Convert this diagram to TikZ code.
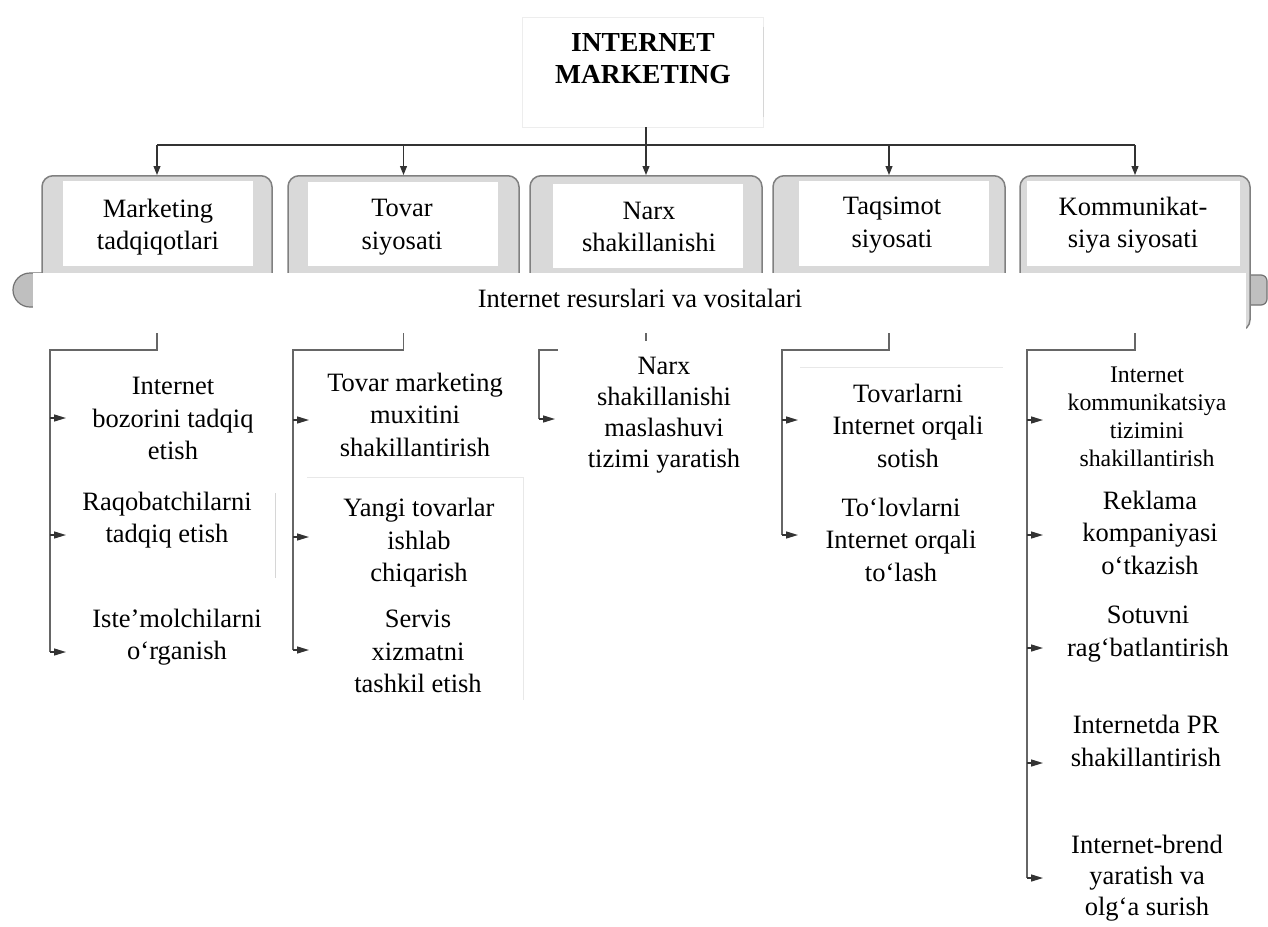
\documentclass[tikz,border=0pt]{standalone}
\usepackage{fontspec}
\setmainfont{Liberation Serif}
\usetikzlibrary{arrows.meta}
\begin{document}
\begin{tikzpicture}[x=1pt,y=-1pt,
  lbl/.style={font=\fontsize{26.5}{32.5}\selectfont, align=center, inner sep=0pt},
  small/.style={font=\fontsize{23.8}{28}\selectfont, align=center, inner sep=0pt},
  title/.style={font=\fontsize{27.5}{32}\selectfont\bfseries, align=center, inner sep=0pt},
  catbox/.style={draw=black!50, fill=black!15, line width=1.5pt, rounded corners=11pt, inner sep=0pt},
  bannerend/.style={draw=black!55, fill=black!25, line width=1.2pt},
  link/.style={draw=black!80, line width=1.1pt},
  down/.style={link, -{Triangle[length=9pt,width=7pt]}},
  bracket/.style={draw=black!60, line width=1.6pt},
  side/.style={draw=black!80, line width=1.4pt, -{Triangle[length=12pt,width=7pt]}},
  ghost/.style={draw=black!16, line width=0.8pt},
]
\useasboundingbox (0,0) rectangle (1268,926);
\clip (0,0) rectangle (1268,926);
\fill[white] (0,0) rectangle (1268,926);

% heading
\node[draw=black!7, line width=0.8pt, minimum width=241pt, minimum height=110pt, inner sep=0pt] (im) at (642.5,72) {};
\draw[ghost] (im.north east) ++(0,10) -- ([yshift=10pt]im.south east);
\node[title] (imt) at (643,59) {INTERNET\\MARKETING};

% grey ends of the resources banner
\draw[bannerend, rounded corners=17pt] (13,273) rectangle (80,307);
\draw[bannerend, rounded corners=6pt] (1200,275) rectangle (1267,305);

% five policy boxes
\node[catbox, anchor=north, minimum width=230pt, minimum height=155pt] (cat1) at (157,175) {};
\node[catbox, anchor=north, minimum width=231pt, minimum height=155pt] (cat2) at (403.5,175) {};
\node[catbox, anchor=north, minimum width=232pt, minimum height=155pt] (cat3) at (646,175) {};
\node[catbox, anchor=north, minimum width=232pt, minimum height=155pt] (cat4) at (889,175) {};
\node[catbox, anchor=north, minimum width=230pt, minimum height=155pt] (cat5) at (1135,175) {};

\fill[white] (63,181) rectangle (253,266);
\fill[white] (308,182) rectangle (498,266);
\fill[white] (553,184) rectangle (743,268);
\fill[white] (799,181) rectangle (989,266);
\fill[white] (1027,181) rectangle (1240,266);

\node[lbl] (t1) at (158,227) {Marketing\\tadqiqotlari};
\node[lbl] (t2) at (402,227) {Tovar\\siyosati};
\node[lbl] (t3) at (649,227) {Narx\\shakillanishi};
\node[lbl] (t4) at (892,225) {Taqsimot\\siyosati};
\node[lbl] (t5) at (1133,225) {Kommunikat-\\siya siyosati};

% resources banner
\node[fill=white, minimum width=1213pt, minimum height=60pt, inner sep=0pt] (ban) at (639.5,303) {};
\node[lbl] (bant) at (640,298) {Internet resurslari va vositalari};

% distribution from the heading to the boxes
\coordinate (hl) at (0,145);
\draw[link] (cat1.north |- hl) -- (cat5.north |- hl);
\draw[down] (im.south -| cat3.north) -- (cat3.north);
\foreach \i in {1,2,4,5}
  \draw[down] (cat\i.north |- hl) -- (cat\i.north);

% brackets under the banner
\coordinate (k1) at (50,652);
\coordinate (k2) at (293,650);
\coordinate (k3) at (539,419);
\coordinate (k4) at (782,535);
\coordinate (k5) at (1027,878);
\foreach \i in {1,...,5}
  \draw[bracket] (ban.south -| cat\i.north) -- ++(0,17) -| (k\i);

\foreach \x/\y in {50/418,50/535,50/652,293/420,293/537,293/650,539/419,782/420,782/535,1027/420,1027/535,1027/648,1027/763,1027/878}
  \draw[side] (\x,\y) -- ++(16,0);

% faint frames of the text blocks
\draw[ghost] (275,493) -- (275,578);
\draw[ghost, draw=black!9] (307,477) -- (523,477) -- (523,700);
\draw[ghost, draw=black!9] (800,367) -- (1003,367);

% activities
\node[lbl] (a1) at (173,418.5) {Internet\\bozorini tadqiq\\etish};
\node[lbl] (a2) at (167,520) {Raqobatchilarni\\tadqiq etish};
\node[lbl] (a3) at (177,637) {Iste’molchilarni\\o‘rganish};

\node[lbl] (b1) at (415,414.5) {Tovar marketing\\muxitini\\shakillantirish};
\node[lbl] (b2) at (419,543) {Yangi tovarlar\\ishlab\\chiqarish};
\node[lbl] (b3) at (418,651.5) {Servis\\xizmatni\\tashkil etish};

\node[lbl, font=\fontsize{26.5}{31}\selectfont, fill=white, inner xsep=30pt, inner ysep=16pt] (c1) at (664,415) {Narx\\shakillanishi\\maslashuvi\\tizimi yaratish};

\node[lbl] (d1) at (908,425.5) {Tovarlarni\\Internet orqali\\sotish};
\node[lbl] (d2) at (901,539.5) {To‘lovlarni\\Internet orqali\\to‘lash};

\node[small] (e1) at (1147,417) {Internet\\kommunikatsiya\\tizimini\\shakillantirish};
\node[lbl] (e2) at (1150,532.5) {Reklama\\kompaniyasi\\o‘tkazish};
\node[lbl] (e3) at (1148,634) {Sotuvni\\rag‘batlantirish};
\node[lbl] (e4) at (1146,741) {Internetda PR\\shakillantirish};
\node[lbl, font=\fontsize{26.5}{31}\selectfont] (e5) at (1147,878) {Internet-brend\\yaratish va\\olg‘a surish};
\end{tikzpicture}
\end{document}
